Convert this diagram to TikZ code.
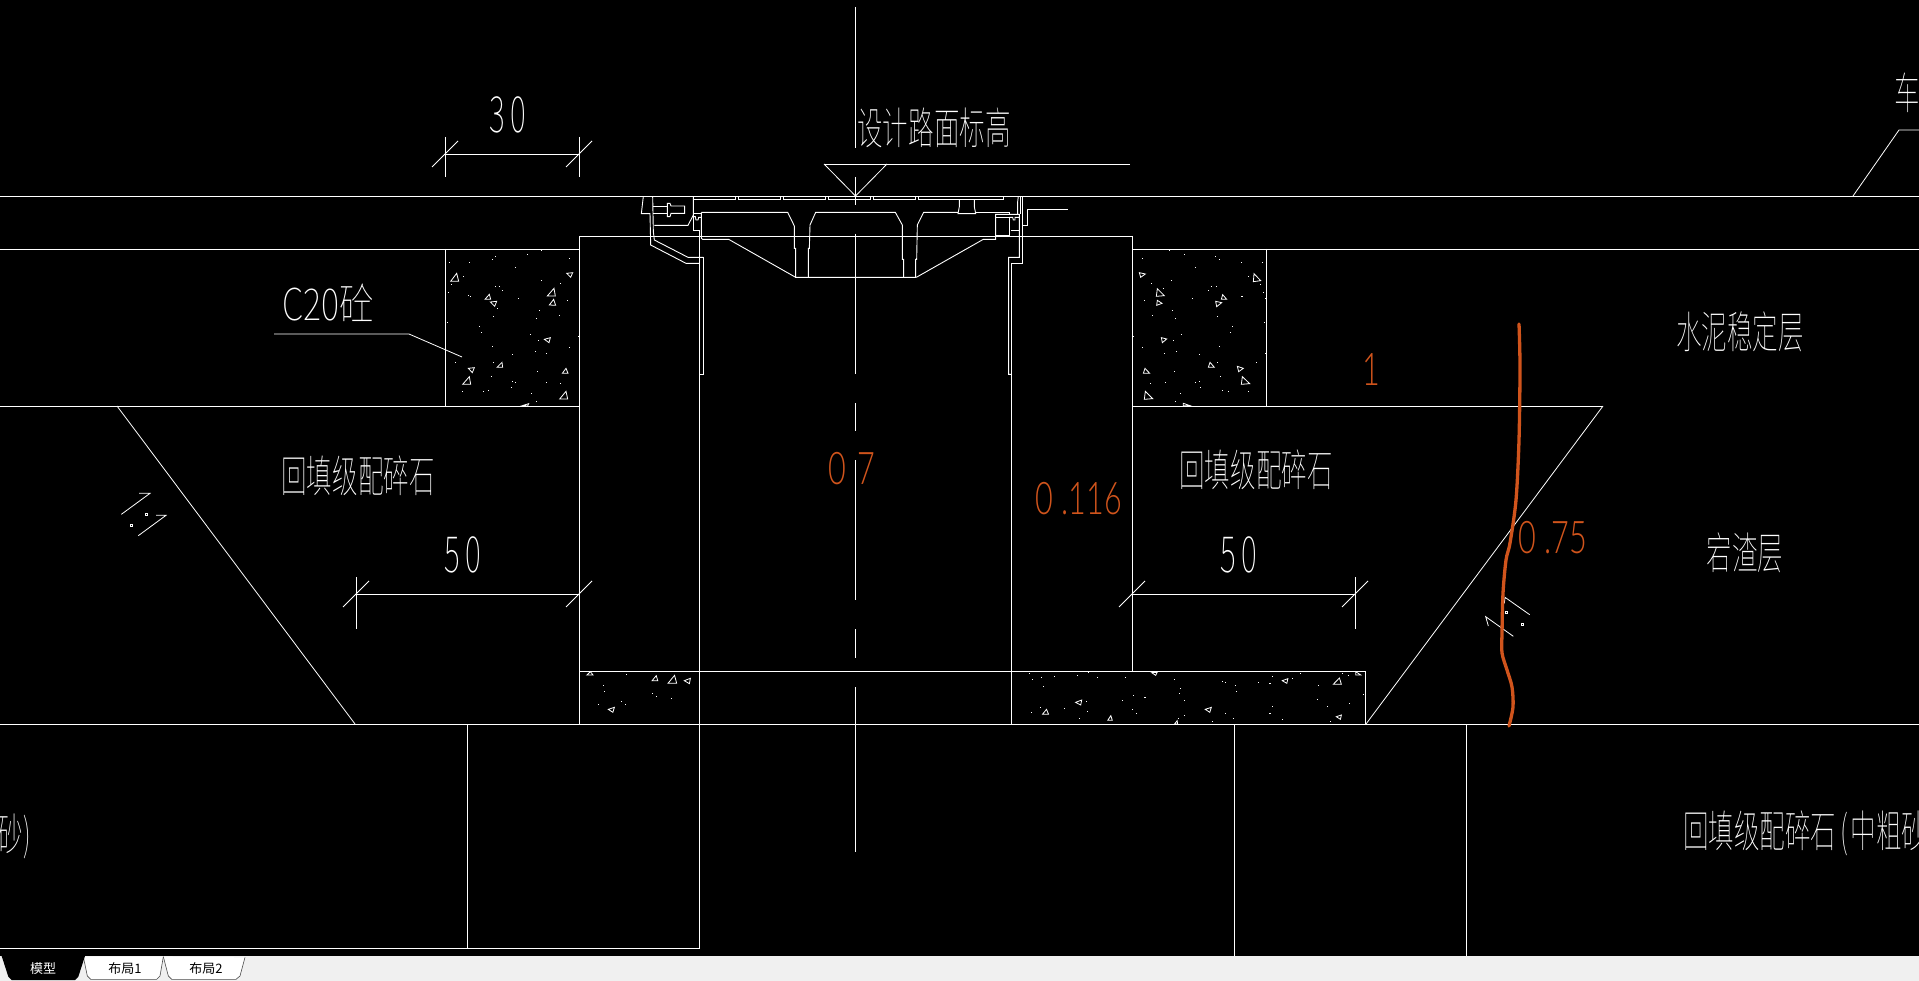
\documentclass[tikz,border=0pt]{standalone}
\usepackage{fontspec}
\newfontfamily\cadfont{Noto Sans CJK SC Thin}
\newfontfamily\tabfont{Noto Sans CJK SC}
\newfontfamily\digitfont{Lato Light}
\definecolor{cadorange}{RGB}{208,84,28}
\definecolor{tabgray}{RGB}{240,240,240}
\tikzset{
  cadline/.style={white, line width=0.9pt},
  fineline/.style={white, line width=0.8pt},
  cadtext/.style={text=white, inner sep=0pt, xscale=0.58, font=\cadfont\fontsize{44}{44}\selectfont},
  caddigit/.style={text=white, inner sep=0pt, xscale=0.6, font=\cadfont\fontsize{50}{50}\selectfont},
  redtext/.style={text=cadorange, inner sep=0pt, xscale=0.68, font=\digitfont\fontsize{45}{45}\selectfont},
  tabtext/.style={inner sep=0pt, font=\tabfont\fontsize{13}{13}\selectfont}
}
\begin{document}
\begin{tikzpicture}[x=1pt,y=-1pt]
\useasboundingbox (0,0) rectangle (1919,981);
\fill[black] (0,0) rectangle (1919,981);
\clip (0,0) rectangle (1919,981);

% road layers %
\draw[cadline] (0,196)--(1919,196);
\draw[cadline] (0,249)--(445,249);
\draw[cadline] (1132,249)--(1919,249);
\draw[cadline] (0,406)--(579,406);
\draw[cadline] (1132,406)--(1603,406);
\draw[cadline] (0,724)--(1919,724);
\draw[cadline] (445,249)--(579,249);
\draw[cadline] (445,249)--(445,406);
\draw[cadline] (1266,249)--(1266,406);

% pit walls
\draw[cadline] (579,236)--(1132,236);
\draw[cadline] (579,236)--(579,724);
\draw[cadline] (1132,236)--(1132,671);
\draw[cadline] (579,671)--(1365,671)--(1365,724);
\draw[cadline] (699.5,374)--(699.5,948);
\draw[cadline] (1011,374)--(1011,724);

% slopes
\draw[fineline] (117,406)--(355,724);
\draw[fineline] (1603,406)--(1366,724);

% below the base
\draw[fineline] (467,724)--(467,948);
\draw[fineline] (1234,724)--(1234,957);
\draw[fineline] (1466,724)--(1466,957);
\draw[fineline] (0,948)--(699.5,948);

% centre line
\foreach \a/\b in {7/148,177/205,234/374,403/431,460/600,629/658,687/852}
\draw[fineline] (855.5,\a)--(855.5,\b);

% level mark
\draw[cadline] (1130,164)--(824,164);
\draw[fineline] (824,164)--(855.5,196)--(887,164);

% grate
\begin{scope}[shift={(620,170)},scale=1/3]
{
% bars
\foreach \a/\b in {220/347,355/482,490/617,625/752,760/887,895/1151}
\draw[cadline] (\a,79)--(\a,89)--(\b,89)--(\b,79);

% left frame
\draw[cadline] (70,79)--(64,131)--(90,131)--(92,225)--(198,280)--(238,280);
\draw[cadline] (98,79)--(100,185)--(103,210)--(204,262)--(250,262);
\draw[cadline] (103,166)--(204,166)--(220,135)--(220,79);
\draw[cadline] (100,108)--(142,108);
\draw[cadline] (100,130)--(142,130);
\draw[cadline] (142,100)--(150,100)--(153,108)--(194,108)--(194,130)--(153,130)--(150,140)--(142,140)--cycle;
\draw[cadline] (220,130)--(244,130);
\draw[cadline] (220,140)--(226,140)--(228,150)--(234,150)--(236,142)--(244,142);
\draw[cadline] (220,135)--(220,180)--(238,180)--(238,660);
\draw[cadline] (250,262)--(250,613)--(238,613);

% casting
\draw[cadline] (244,127)--(503,127)--(523,168)--(523,235)--(527,235)--(527,322)--(889,322);
\draw[cadline] (244,127)--(244,205)--(248,208)--(326,208)--(527,322);
\draw[cadline] (565,322)--(565,235)--(568,235)--(570,165)--(587,127)--(826,127)--(847,165)--(847,268)--(851,268)--(851,322);
\draw[cadline] (887,322)--(887,268)--(890,268)--(892,165)--(911,127)--(1014,127);
\draw[cadline] (889,322)--(1090,208)--(1127,208)--(1127,133)--(1198,133)--(1198,262)--(1166,262)--(1166,613)--(1174,613);
\draw[cadline] (1018,89)--(1018,110)--(1014,131)--(1067,131)--(1063,110)--(1063,89);
\draw[cadline] (1067,127)--(1168,127)--(1168,133);

% right frame
\draw[cadline] (1127,142)--(1168,142)--(1168,197)--(1127,197);
\draw[cadline] (1168,142)--(1178,142)--(1180,150)--(1185,150)--(1185,142)--(1198,142);
\draw[cadline] (1174,613)--(1174,280)--(1208,280)--(1208,79);
\draw[cadline] (1202,79)--(1202,133);
\draw[cadline] (1195,79)--(1193,95)--(1193,133);
\draw[cadline] (1174,182)--(1198,182);
\draw[cadline] (1208,166)--(1222,166)--(1222,118)--(1344,118);
}
\end{scope}

% left concrete
\begin{scope}[shift={(430,230)},scale=1/3]
{
\foreach \a/\b/\c/\d/\e/\f in {62/154/86/154/80/130,410/130/428/128/422/142,165/208/182/208/178/193,181/216/200/214/194/229,352/198/376/198/372/175,358/225/377/226/371/208,343/328/361/323/357/338,201/412/218/412/216/397,115/415/133/413/127/428,397/430/414/430/408/415,98/463/122/463/118/440,389/507/413/507/408/484,277/527/296/521/293/528}
\draw[fineline] (\a,\b)--(\c,\d)--(\e,\f)--cycle;

\foreach \x/\y in {196/79,187/88,290/73,334/60,416/85,58/97,118/97,256/112,100/139,64/163,332/151,391/160,194/169,208/169,217/181,55/187,115/196,121/199,265/205,412/211,202/235,328/241,388/256,190/259,319/265,52/277,148/289,154/307,301/313,325/331,445/319,187/349,418/352,316/364,349/370,247/373,76/397,190/397,322/424,184/439,247/454,256/457,347/457,391/460,244/472,97/484,160/484,175/481,304/490,319/514}
\fill[white] (\x,\y) rectangle ++(3,3);
}
\end{scope}

% right concrete
\begin{scope}[shift={(1100,230)},scale=1/3]
{
\foreach \a/\b/\c/\d/\e/\f in {118/128/136/132/122/142,460/155/482/152/462/131,169/199/193/197/172/176,170/226/186/220/172/211,364/208/380/208/368/194,347/214/365/218/350/230,184/323/200/327/187/338,325/412/343/412/330/397,130/430/149/430/135/415,412/409/430/415/416/425,424/463/449/461/427/440,133/508/158/506/136/484,250/527/270/527/250/520}
\draw[fineline] (\a,\b)--(\c,\d)--(\e,\f)--cycle;

\foreach \x/\y in {208/61,253/73,346/79,358/88,127/85,424/97,487/97,286/112,445/139,214/151,154/160,481/163,190/175,334/169,349/169,325/181,490/187,133/211,277/205,427/197,424/199,496/205,217/241,157/256,226/265,352/259,493/277,397/289,391/307,244/313,220/331,100/319,127/352,358/349,193/370,229/364,298/373,496/370,469/397,352/397,223/424,361/439,151/460,196/457,286/457,298/454,301/472,445/484,367/481,385/484,241/490,226/514}
\fill[white] (\x,\y) rectangle ++(3,3);
}
\end{scope}

% pad concrete
\begin{scope}[shift={(570,650)},xscale=1/1.96,yscale=1/3]
{
\foreach \a/\b/\c/\d/\e/\f in {33/75/45/75/40/65,161/92/172/92/169/77,192/100/209/100/205/76,224/92/236/85/234/101,75/178/87/172/84/187,1140/68/1151/67/1148/76,1396/92/1407/86/1405/100,1496/103/1512/103/1508/84,1540/65/1550/75/1540/75,991/157/1003/150/1001/165,926/193/938/193/934/178,1245/178/1257/172/1254/187,1054/211/1063/211/1060/197,1185/222/1191/222/1190/212,1502/200/1512/195/1510/208}
\draw[fineline] (\a,\b)--(\c,\d)--(\e,\f)--cycle;

\foreach \x/\y in {109/73,64/106,66/124,161/130,168/139,197/145,99/154,107/163,54/163,899/70,1016/67,924/82,948/79,993/76,1032/82,1087/82,905/88,928/109,1183/88,1277/94,1284/97,1304/106,1349/97,1371/100,1376/79,1430/70,1415/85,1467/106,1514/70,1524/76,1195/115,1193/130,1306/124,1104/136,1126/142,1204/151,1081/151,1012/154,1465/148,1526/160,1555/133,1375/169,1483/169,921/172,968/175,1101/178,1110/190,1014/184,903/187,1371/190,1283/190,1204/196,1192/205,997/205,1300/203,1395/208,1259/214,1489/214}
\fill[white] (\x,\y) rectangle ++(2,3);
}
\end{scope}

% dimensions
\foreach \xa/\xb/\yy in {445/579/154,356/579/594,1132/1355/594}
{
\draw[cadline] (\xa,\yy)--(\xb,\yy);
\draw[fineline] (\xa-13,\yy+13)--(\xa+13,\yy-13);
\draw[fineline] (\xb-13,\yy+13)--(\xb+13,\yy-13);
}
\draw[fineline] (445,137)--(445,177);
\draw[fineline] (579,137)--(579,177);
\draw[fineline] (356,577)--(356,629);
\draw[fineline] (1355,577)--(1355,629);

% leaders
\draw[fineline] (274,334)--(409,334)--(462,357);
\draw[fineline] (1853,196)--(1899,130)--(1919,130);

% slope marks
\begin{scope}[shift={(90,460)},scale=1/3]
{
\draw[fineline] (94,163)--(180,100)--(147,100);
\draw[fineline] (145,227)--(228,166)--(198,166);
\draw[fineline, line width=0.5pt] (167,161) rectangle ++(5,5);
\draw[fineline, line width=0.5pt] (122,194) rectangle ++(5,5);
}
\end{scope}
\begin{scope}[shift={(1450,500)},scale=1/3]
{
\draw[fineline] (239,344)--(165,292)--(163,310);
\draw[fineline] (190,409)--(107,350)--(115,378);
\draw[fineline, line width=0.5pt] (167,335) rectangle ++(5,5);
\draw[fineline, line width=0.5pt] (214,371) rectangle ++(5,5);
}
\end{scope}

% hand drawn line
\draw[cadorange, line width=3.3pt, line cap=round] plot[smooth] coordinates {(1519,324) (1520,367) (1519,440) (1516,500) (1510,543) (1506,560) (1503,593) (1502,633) (1502,653) (1507,670) (1512,687) (1513,707) (1509,726)};

% labels
\node[caddigit] (dimtop) at (508,115) {3\hspace{9pt}0};
\node[caddigit] (dimleft) at (463,555) {5\hspace{9pt}0};
\node[caddigit] (dimright) at (1239,555) {5\hspace{9pt}0};
\node[cadtext] (levelname) at (934,128) {设计路面标高};
\node[cadtext, xscale=1.35] (concretename) at (328,303) {C20砼};
\node[cadtext] (fillleft) at (358,476) {回填级配碎石};
\node[cadtext] (fillright) at (1256,470) {回填级配碎石};
\node[cadtext] (cementname) at (1740,332) {水泥稳定层};
\node[cadtext] (slagname) at (1745,553) {宕渣层};
\node[cadtext, anchor=west] (fillbase) at (1683,833) {回填级配碎石\hspace{8pt}(\hspace{4pt}中粗砂)};
\node[cadtext, anchor=east] (sandname) at (31,836) {砂)};
\node[cadtext] (carname) at (1907,93) {车};

\node[redtext] (redcentre) at (852,469) {0\hspace{17pt}7};
\node[redtext] (redwall) at (1079,499) {0 .116};
\node[redtext] (redslope) at (1553,538) {0 .75};
\node[redtext] (redone) at (1371,370) {1};

% layout tabs
\begin{scope}[shift={(0,930)},scale=1/3]
{
\fill[tabgray] (0,78) rectangle (5760,153);
\draw[fill=white, draw=black!70, line width=0.6pt] (250,80)--(262,138)--(272,148)--(470,148)--(480,138)--(490,80);
\draw[fill=white, draw=black!70, line width=0.6pt] (490,80)--(505,138)--(515,148)--(708,148)--(720,138)--(735,82);
\fill[black] (5,78)--(25,140)--(35,150)--(225,150)--(235,140)--(255,78)--cycle;
}
\end{scope}
\node[tabtext, text=white] (tabmodel) at (43,969) {模型};
\node[tabtext, text=black] (tabone) at (125,969) {布局1};
\node[tabtext, text=black] (tabtwo) at (206,969) {布局2};

\end{tikzpicture}
\end{document}
